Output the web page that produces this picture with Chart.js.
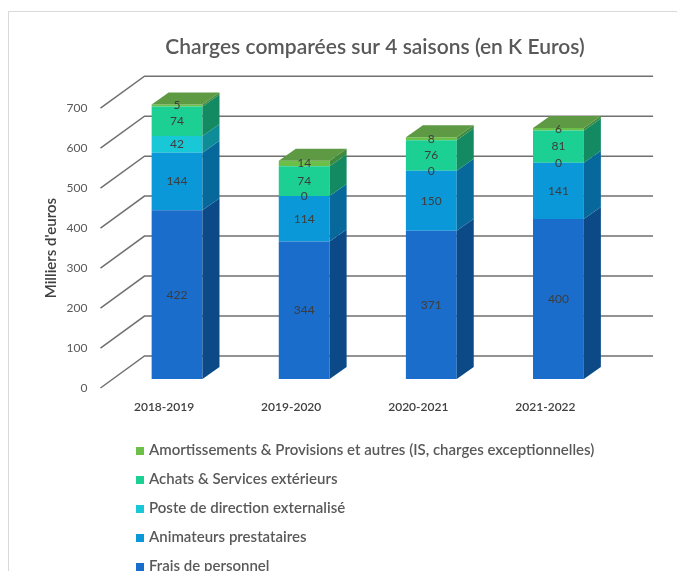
<!DOCTYPE html>
<html lang="fr">
<head>
<meta charset="utf-8">
<title>Charges comparées sur 4 saisons</title>
<script src="https://cdn.jsdelivr.net/npm/chart.js@4.4.1/dist/chart.umd.min.js"></script>
<style>
  html, body { margin: 0; padding: 0; background: #fff; overflow: hidden; width: 677px; height: 571px; }
  #frame { position: absolute; left: 8px; top: 11px; width: 720px; height: 600px; border: 1px solid #d9d9d9; }
  #chart { position: absolute; left: 0; top: 0; }
  #legend { position: absolute; left: 136px; top: 435px; font-family: Lato, 'Liberation Sans', sans-serif; font-size: 15px; font-weight: 600; color: #595959; }
  .item { height: 29px; line-height: 29px; white-space: nowrap; }
  .box { display: inline-block; width: 8px; height: 8px; margin-right: 5px; }
</style>
</head>
<body>
<div id="frame"></div>
<canvas id="chart" width="750" height="571"></canvas>
<div id="legend"></div>
<script>
// données (K euros)
const seasons = ['2018-2019', '2019-2020', '2020-2021', '2021-2022'];
const fraisPersonnel = [422, 344, 371, 400];
const animateurs = [144, 114, 150, 141];
const posteDirection = [42, 0, 0, 0];
const achatsServices = [74, 74, 76, 81];
const amortissements = [5, 14, 8, 6];
const yMax = 700;
const yStep = 100;

const seriesNames = [
    'Frais de personnel',
    'Animateurs prestataires',
    'Poste de direction externalisé',
    'Achats & Services extérieurs',
    'Amortissements & Provisions et autres (IS, charges exceptionnelles)'
];
const seriesValues = [fraisPersonnel, animateurs, posteDirection, achatsServices, amortissements];
const frontColors = ['#1a6dca', '#0a98d8', '#19c8d6', '#1ccf92', '#6cc04a'];
const sideColors = ['#0c4a87', '#07699b', '#0e8d98', '#138a62', '#3f8a3e'];
const topColor = '#5e9a44';

// décalages de profondeur (pseudo 3D)
const BAR_SHIFT = { x: 13, y: -9 };
const SIDE = { x: 17, y: -12 };
const WALL = { x: 44, y: -32 };

const FONT = 'Lato, "Liberation Sans", sans-serif';

function poly(ctx, pts, color) {
    ctx.fillStyle = color;
    ctx.beginPath();
    ctx.moveTo(pts[0][0], pts[0][1]);
    for (let k = 1; k < pts.length; k++) ctx.lineTo(pts[k][0], pts[k][1]);
    ctx.closePath();
    ctx.fill();
}

const depthPlugin = {
    id: 'depth3d',
    beforeDatasetsDraw(chart) {
        const { ctx, chartArea, scales: { y } } = chart;
        // mur du fond + lignes en perspective
        ctx.save();
        ctx.strokeStyle = '#707070';
        ctx.lineWidth = 1.5;
        y.ticks.forEach(t => {
            const py = y.getPixelForValue(t.value);
            ctx.beginPath();
            ctx.moveTo(chartArea.left, py);
            ctx.lineTo(chartArea.left + WALL.x, py + WALL.y);
            ctx.lineTo(chartArea.right + WALL.x, py + WALL.y);
            ctx.stroke();
        });
        ctx.restore();
        ctx.save();
        ctx.translate(BAR_SHIFT.x, BAR_SHIFT.y);
    },
    afterDatasetsDraw(chart) {
        const ctx = chart.ctx;
        const last = chart.data.datasets.length - 1;
        chart.data.datasets.forEach((ds, i) => {
            chart.getDatasetMeta(i).data.forEach(bar => {
                const { x, y, base, width } = bar.getProps(['x', 'y', 'base', 'width'], true);
                const top = Math.min(y, base), bottom = Math.max(y, base);
                const l = x - width / 2, r = x + width / 2;
                if (bottom - top > 0) {
                    poly(ctx, [[r, top], [r + SIDE.x, top + SIDE.y], [r + SIDE.x, bottom + SIDE.y], [r, bottom]], sideColors[i]);
                }
                if (i === last) {
                    poly(ctx, [[l, top], [l + SIDE.x, top + SIDE.y], [r + SIDE.x, top + SIDE.y], [r, top]], topColor);
                }
            });
        });
        // étiquettes de valeurs
        ctx.font = '12px ' + FONT;
        ctx.fillStyle = '#3d3d3d';
        ctx.textAlign = 'center';
        ctx.textBaseline = 'middle';
        chart.data.datasets.forEach((ds, i) => {
            chart.getDatasetMeta(i).data.forEach((bar, j) => {
                const { x, y, base } = bar.getProps(['x', 'y', 'base'], true);
                ctx.fillText(String(ds.data[j]), x, (y + base) / 2);
            });
        });
        ctx.restore();
    }
};

const chart = new Chart(document.getElementById('chart'), {
    type: 'bar',
    data: {
        labels: seasons,
        datasets: seriesNames.map((name, i) => ({
            label: name,
            data: seriesValues[i],
            backgroundColor: frontColors[i],
            borderWidth: 0,
            categoryPercentage: 1,
            barPercentage: 0.4,
            clip: false
        }))
    },
    options: {
        responsive: false,
        animation: false,
        devicePixelRatio: 1,
        layout: { padding: { left: 0, right: 0, top: 0, bottom: 143 } },
        plugins: {
            legend: { display: false },
            tooltip: { enabled: false },
            title: {
                display: true,
                text: 'Charges comparées sur 4 saisons (en K Euros)',
                color: '#595959',
                font: { family: FONT, size: 21, weight: '600' },
                padding: { top: 35, bottom: 48 }
            }
        },
        scales: {
            x: {
                stacked: true,
                grid: { display: false, drawTicks: false },
                border: { display: false },
                ticks: { color: '#404040', font: { family: FONT, size: 12, weight: '600' }, padding: 12 },
                afterFit: s => { s.height = 40; }
            },
            y: {
                stacked: true,
                min: 0,
                max: yMax,
                grid: { display: false, drawTicks: false },
                border: { display: false },
                ticks: { stepSize: yStep, color: '#595959', font: { family: FONT, size: 12 }, padding: 13 },
                title: {
                    display: true,
                    text: "Milliers d'euros",
                    color: '#404040',
                    font: { family: FONT, size: 15, weight: '600' },
                    padding: { top: 42, bottom: 0 }
                },
                afterFit: s => { s.width = 100.5; }
            },
            y2: {
                position: 'right',
                grid: { display: false },
                border: { display: false },
                ticks: { display: false },
                afterFit: s => { s.width = 141; }
            }
        }
    },
    plugins: [depthPlugin]
});

// légende verticale (ordre inversé comme dans Excel)
const legendEl = document.getElementById('legend');
chart.data.datasets.slice().reverse().forEach(ds => {
    const row = document.createElement('div');
    row.className = 'item';
    const box = document.createElement('span');
    box.className = 'box';
    box.style.background = ds.backgroundColor;
    row.appendChild(box);
    row.appendChild(document.createTextNode(ds.label));
    legendEl.appendChild(row);
});
</script>
</body>
</html>
